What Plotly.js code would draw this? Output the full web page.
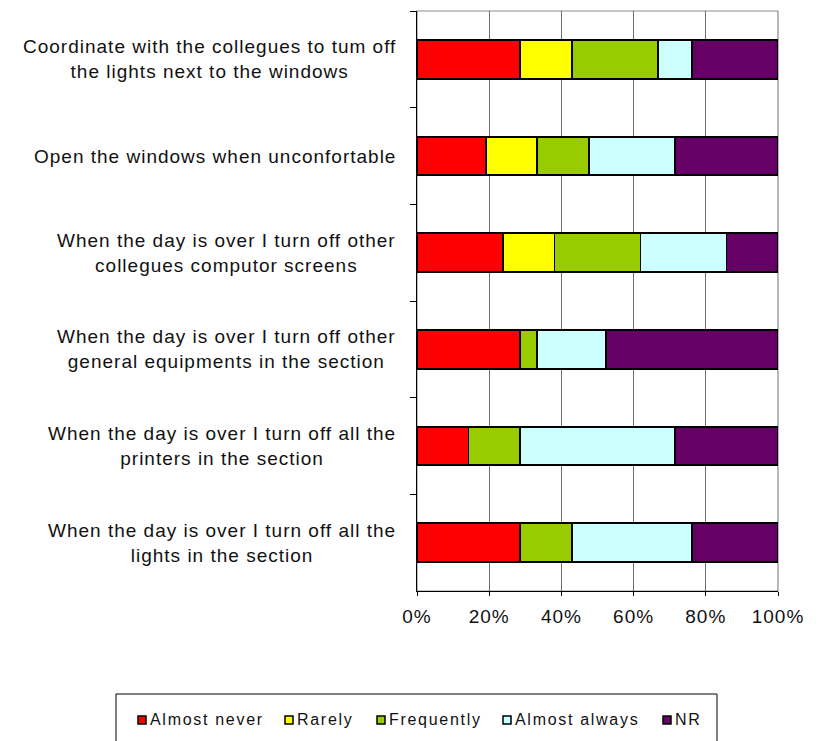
<!DOCTYPE html>
<html>
<head>
<meta charset="utf-8">
<script src="https://cdn.plot.ly/plotly-3.0.1.min.js"></script>
<style>
  html, body { margin: 0; padding: 0; background: #fff; }
  #chart { width: 820px; height: 741px; }
  /* slightly open letter spacing for the labels */
  .xtick text { letter-spacing: 1px; }
  text.annotation-text[style*="font-size: 19px"] { letter-spacing: 1px; }
  text.annotation-text[style*="font-size: 16px"] { letter-spacing: 1.7px; }
</style>
</head>
<body>
<div id="chart"></div>
<script>
// Survey statements, listed from top to bottom
const statements = [
  'Coordinate with the collegues to tum off<br>the lights next to the windows',
  'Open the windows when unconfortable',
  'When the day is over I turn off other<br>collegues computor screens',
  'When the day is over I turn off other<br>general equipments in the section',
  'When the day is over I turn off all the<br>printers in the section',
  'When the day is over I turn off all the<br>lights in the section'
];

// Answer counts per statement (21 respondents each)
const almostNever   = [6, 4, 5, 6, 3, 6];
const rarely        = [3, 3, 3, 0, 0, 0];
const frequently    = [5, 3, 5, 1, 3, 3];
const almostAlways  = [2, 5, 5, 4, 9, 7];
const noReply       = [5, 6, 3, 10, 6, 5];

const seriesNames  = ['Almost never', 'Rarely', 'Frequently', 'Almost always', 'NR'];
const seriesValues = [almostNever, rarely, frequently, almostAlways, noReply];
const seriesColors = ['#FF0000', '#FFFF00', '#99CC00', '#CCFFFF', '#660066'];

const xTicks = [0, 20, 40, 60, 80, 100];

const FONT = 'Liberation Sans, Arial, sans-serif';

// Page geometry (pixels)
const W = 820, H = 741;
const M = { l: 417, r: 42, t: 11, b: 150 };
const plotW = W - M.l - M.r, plotH = H - M.t - M.b;
const px2x = px => (px - M.l) / plotW;
const px2y = py => (H - M.b - py) / plotH;

const traces = seriesNames.map((name, i) => ({
  type: 'bar',
  orientation: 'h',
  name: name,
  y: statements,
  x: seriesValues[i],
  marker: { color: seriesColors[i], line: { color: '#000000', width: 1.8 } },
  hoverinfo: 'name+x'
}));

// Statement labels: centred lines, right edge next to the axis
const labelNotes = statements.map(s => ({
  xref: 'paper', yref: 'y',
  x: 0, y: s,
  xanchor: 'right', yanchor: 'middle',
  xshift: -19,
  align: 'center',
  showarrow: false,
  text: s,
  font: { family: FONT, size: 19, color: '#111111' }
}));

// Legend below the chart: small keyed squares followed by the series name
const legendKeyLeft = [138, 285, 377, 503, 663];
const legendY = 720, keySize = 8;
const legendKeys = seriesNames.map((name, i) => ({
  type: 'rect', xref: 'paper', yref: 'paper',
  x0: px2x(legendKeyLeft[i]), x1: px2x(legendKeyLeft[i] + keySize),
  y0: px2y(legendY - keySize / 2), y1: px2y(legendY + keySize / 2),
  fillcolor: seriesColors[i],
  line: { color: '#000000', width: 1.5 }
}));
const legendText = seriesNames.map((name, i) => ({
  xref: 'paper', yref: 'paper',
  x: px2x(legendKeyLeft[i] + keySize + 2), y: px2y(legendY - 1),
  xanchor: 'left', yanchor: 'middle',
  showarrow: false,
  text: name,
  font: { family: FONT, size: 16, color: '#111111' }
}));

const layout = {
  width: W,
  height: H,
  margin: { l: M.l, r: M.r, t: M.t, b: M.b, pad: 0 },
  paper_bgcolor: '#ffffff',
  plot_bgcolor: '#ffffff',
  barmode: 'stack',
  barnorm: 'percent',
  bargap: 0.6,
  showlegend: false,
  font: { family: FONT, size: 19, color: '#111111' },
  xaxis: {
    range: [0, 100],
    tickvals: xTicks,
    ticktext: xTicks.map(v => v + '%'),
    showgrid: true,
    gridcolor: '#6e6e6e',
    gridwidth: 1.2,
    zeroline: false,
    showline: true,
    linecolor: '#000000',
    linewidth: 1,
    ticks: 'outside',
    ticklen: 4,
    tickcolor: '#000000',
    ticklabelstandoff: 4,
    tickfont: { family: FONT, size: 19, color: '#111111' },
    fixedrange: true
  },
  yaxis: {
    type: 'category',
    autorange: 'reversed',
    showticklabels: false,
    showgrid: false,
    zeroline: false,
    showline: true,
    linecolor: '#000000',
    linewidth: 1,
    ticks: 'outside',
    tickson: 'boundaries',
    ticklen: 6,
    tickcolor: '#000000',
    fixedrange: true
  },
  annotations: labelNotes.concat(legendText),
  shapes: [
    // plot-area frame
    { type: 'rect', xref: 'paper', yref: 'paper', x0: 0, x1: 1, y0: 0, y1: 1,
      line: { color: '#8c8c8c', width: 1.2 }, layer: 'below' },
    // legend frame, running past the bottom of the page
    { type: 'rect', xref: 'paper', yref: 'paper',
      x0: px2x(116), x1: px2x(717), y0: px2y(694), y1: px2y(760),
      line: { color: '#000000', width: 1 }, fillcolor: 'rgba(0,0,0,0)' }
  ].concat(legendKeys)
};

Plotly.newPlot('chart', traces, layout, { displayModeBar: false, staticPlot: true });
</script>
</body>
</html>
